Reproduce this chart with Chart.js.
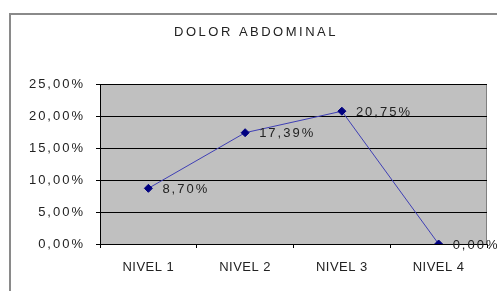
<!DOCTYPE html>
<html>
<head>
<meta charset="utf-8">
<script src="https://cdn.jsdelivr.net/npm/chart.js@4"></script>
<style>
html,body{margin:0;padding:0;background:#fff;}
#wrap{width:497px;height:291px;position:relative;}
</style>
</head>
<body>
<div id="wrap"><canvas id="c"></canvas></div>
<script>
const titleText = "DOLOR ABDOMINAL";
const categories = ["NIVEL 1", "NIVEL 2", "NIVEL 3", "NIVEL 4"];
const values = [8.70, 17.39, 20.75, 0.00];
const yTicks = [0, 5, 10, 15, 20, 25];

const fmt = v => v.toFixed(2).replace('.', ',') + '%';
const FONT = '"Liberation Sans", Arial, sans-serif';

const framePlugin = {
  id: 'frame',
  beforeDraw(chart) {
    const ctx = chart.ctx, a = chart.chartArea;
    ctx.save();
    // outer frame
    ctx.strokeStyle = '#8a8a8a';
    ctx.lineWidth = 2;
    ctx.beginPath();
    ctx.moveTo(10, chart.height + 2);
    ctx.lineTo(10, 14);
    ctx.lineTo(chart.width + 2, 14);
    ctx.stroke();
    // plot background
    ctx.fillStyle = '#c0c0c0';
    ctx.fillRect(a.left, a.top, a.right - a.left, a.bottom - a.top);
    ctx.strokeStyle = '#808080';
    ctx.lineWidth = 1;
    ctx.beginPath();
    ctx.moveTo(a.left, a.top + 0.5);
    ctx.lineTo(a.right - 0.5, a.top + 0.5);
    ctx.lineTo(a.right - 0.5, a.bottom);
    ctx.stroke();
    // title
    ctx.fillStyle = '#222';
    ctx.font = '13px ' + FONT;
    ctx.letterSpacing = '2.5px';
    ctx.textAlign = 'center';
    ctx.textBaseline = 'middle';
    ctx.fillText(titleText, 256, 32);
    ctx.restore();
    // per-scale letter spacing
    const patch = (scale, sp) => {
      const proto = Object.getPrototypeOf(scale);
      scale.drawLabels = function (area) {
        this.ctx.save();
        this.ctx.letterSpacing = sp;
        proto.drawLabels.call(this, area);
        this.ctx.restore();
      };
    };
    patch(chart.scales.y, '2px');
    patch(chart.scales.x, '0.5px');
  },
  afterDatasetsDraw(chart) {
    const ctx = chart.ctx;
    const meta = chart.getDatasetMeta(0);
    ctx.save();
    ctx.fillStyle = '#222';
    ctx.font = '13px ' + FONT;
    ctx.letterSpacing = '2px';
    ctx.textAlign = 'left';
    ctx.textBaseline = 'middle';
    meta.data.forEach((pt, i) => {
      ctx.fillText(fmt(values[i]), pt.x + 14, pt.y + 1);
    });
    ctx.restore();
  }
};

new Chart(document.getElementById('c'), {
  type: 'line',
  data: {
    labels: categories,
    datasets: [{
      data: values,
      borderColor: '#3f3fb5',
      borderWidth: 1,
      pointStyle: 'rectRot',
      pointRadius: 4,
      pointBackgroundColor: '#000080',
      pointBorderColor: '#000080',
      tension: 0
    }]
  },
  options: {
    responsive: true,
    maintainAspectRatio: false,
    animation: false,
    layout: { padding: { top: 84, right: 10, bottom: 0, left: 0 } },
    plugins: { legend: { display: false }, title: { display: false }, tooltip: { enabled: false } },
    scales: {
      x: {
        offset: true,
        grid: { offset: true, drawOnChartArea: false, drawTicks: true, tickLength: 4, color: '#000' },
        border: { display: true, color: '#000' },
        ticks: { color: '#222', font: { family: FONT, size: 13 }, padding: 12, maxRotation: 0, autoSkip: false },
        afterFit(s) { s.height = 47; }
      },
      y: {
        min: 0, max: 25,
        afterBuildTicks(s) { s.ticks = yTicks.map(v => ({ value: v })); },
        grid: { color: '#000', lineWidth: 1, tickLength: 4, tickColor: '#000' },
        border: { display: true, color: '#000' },
        ticks: { color: '#222', font: { family: FONT, size: 13 }, padding: 11, callback: v => fmt(v) },
        afterFit(s) { s.width = 100; }
      }
    }
  },
  plugins: [framePlugin]
});
</script>
</body>
</html>
